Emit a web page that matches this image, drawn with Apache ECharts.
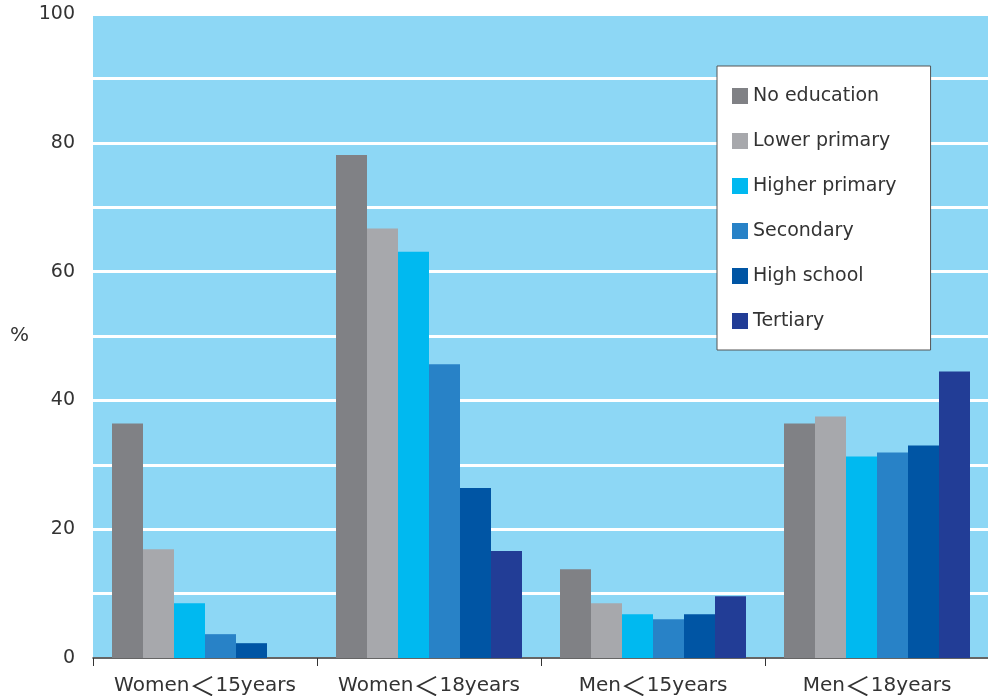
<!DOCTYPE html>
<html>
<head>
<meta charset="utf-8">
<script src="https://cdn.jsdelivr.net/npm/echarts@6/dist/echarts.min.js"></script>
<style>
    html, body { margin: 0; padding: 0; background: #fff; }
    #main { width: 988px; height: 696px; }
</style>
</head>
<body>
<div id="main"></div>
<script>
    // 类别
    var categories = ['Women＜15years', 'Women＜18years', 'Men＜15years', 'Men＜18years'];
    // 各教育程度数据 (%)
    var noEducation = [36.4, 78.1, 13.8, 36.4];
    var lowerPrimary = [16.9, 66.7, 8.5, 37.5];
    var higherPrimary = [8.5, 63.1, 6.8, 31.3];
    var secondary = [3.7, 45.6, 6.0, 31.9];
    var highSchool = [2.3, 26.4, 6.8, 33.0];
    var tertiary = ['-', 16.6, 9.6, 44.5];
    var seriesNames = ['No education', 'Lower primary', 'Higher primary', 'Secondary', 'High school', 'Tertiary'];
    var colors = ['#808185', '#a7a8ac', '#00b9f0', '#2882c7', '#0055a4', '#223d96'];

    var dataList = [noEducation, lowerPrimary, higherPrimary, secondary, highSchool, tertiary];
    var fontName = 'DejaVu Sans';

    var series = [];
    for (var i = 0; i < dataList.length; i++) {
        series.push({
            name: seriesNames[i],
            type: 'bar',
            barWidth: 31,
            barGap: '0%',
            itemStyle: { color: colors[i] },
            data: dataList[i]
        });
    }

    var mychart = echarts.init(document.getElementById('main'));
    var option = {
        animation: false,
        textStyle: { fontFamily: fontName },
        grid: {
            left: 93,
            right: -1,
            top: 14,
            bottom: 38,
            outerBoundsMode: 'none',
            backgroundColor: '#8dd7f5',
            show: true,
            borderWidth: 0
        },
        legend: {
            orient: 'vertical',
            left: 717,
            top: 66,
            padding: [20, 34, 19, 15],
            itemGap: 25,
            itemWidth: 16,
            itemHeight: 16,
            backgroundColor: '#fff',
            borderColor: '#555',
            borderWidth: 1,
            icon: 'rect',
            textStyle: { fontSize: 19, color: '#333', lineHeight: 20, fontFamily: fontName },
            data: seriesNames
        },
        xAxis: {
            type: 'category',
            data: categories,
            axisLine: { lineStyle: { color: '#333', width: 1.5 } },
            axisTick: { show: true, interval: 0, length: 8, lineStyle: { color: '#333' } },
            axisLabel: {
                interval: 0,
                hideOverlap: false,
                color: '#333',
                margin: 15,
                formatter: function (v) {
                    var p = v.split('＜');
                    return '{a|' + p[0] + '}{b|＜}{a|' + p[1] + '}';
                },
                rich: {
                    a: { fontSize: 20, color: '#333', fontFamily: fontName },
                    b: { fontSize: 26, color: '#333', fontFamily: 'Noto Sans CJK SC' }
                }
            }
        },
        yAxis: {
            type: 'value',
            min: 0,
            max: 100,
            interval: 10,
            name: '%',
            nameLocation: 'middle',
            nameRotate: 0,
            nameGap: 64,
            nameTextStyle: { fontSize: 20, color: '#333', fontFamily: fontName, padding: [10, 0, 0, 0] },
            axisLine: { show: false },
            axisTick: { show: false },
            axisLabel: {
                fontSize: 19,
                color: '#333',
                margin: 18,
                fontFamily: fontName,
                formatter: function (v) {
                    return v % 20 === 0 ? v : '';
                }
            },
            splitLine: { show: true, lineStyle: { color: '#fff', width: 3 } }
        },
        series: series
    };
    mychart.setOption(option);
</script>
</body>
</html>
